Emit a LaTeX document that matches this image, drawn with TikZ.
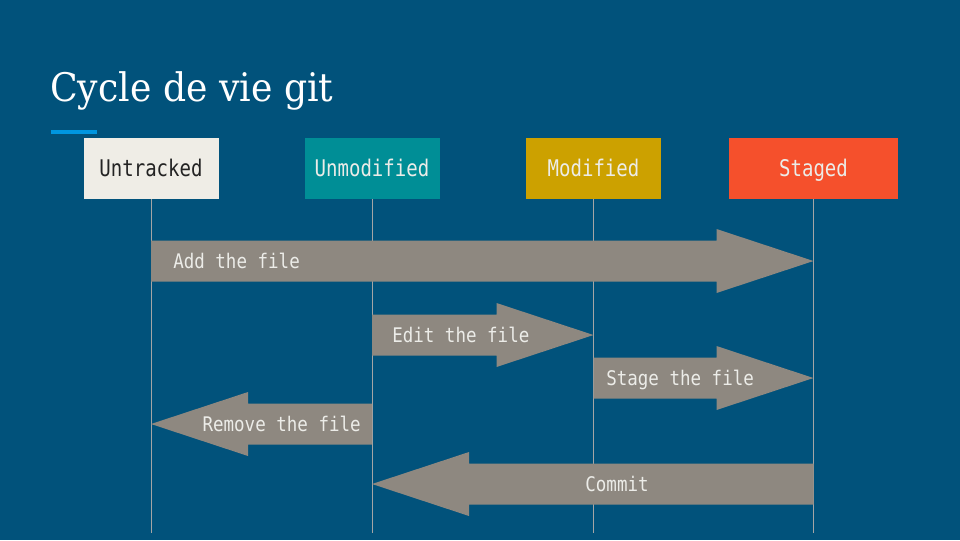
\documentclass[tikz,border=0pt]{standalone}
\usepackage{fontspec}
\usetikzlibrary{calc}
\newfontfamily\titlefont[FakeStretch=0.92]{DejaVu Serif}
\newfontfamily\boxfont[FakeStretch=0.83]{DejaVu Sans Mono}
\newfontfamily\flowfont[FakeStretch=0.87]{DejaVu Sans Mono}
\definecolor{slidebg}{RGB}{1,82,123}
\definecolor{accent}{RGB}{0,150,224}
\definecolor{untrackedc}{RGB}{239,237,230}
\definecolor{unmodifiedc}{RGB}{0,142,150}
\definecolor{modifiedc}{RGB}{204,161,0}
\definecolor{stagedc}{RGB}{245,80,44}
\definecolor{flowc}{RGB}{142,136,128}
\definecolor{lightc}{RGB}{236,236,232}
\definecolor{darkc}{RGB}{35,35,35}
\definecolor{lifec}{RGB}{165,165,165}

% flat arrow: tail, tip, direction (1 right, -1 left)
\newcommand{\flowarrow}[3]{%
  \fill[flow] ($(#1)+(0,-20.5)$) -- ($(#2)+({-97*(#3)},-20.5)$) -- ($(#2)+({-97*(#3)},-32)$)
    -- (#2) -- ($(#2)+({-97*(#3)},32)$) -- ($(#2)+({-97*(#3)},20.5)$) -- ($(#1)+(0,20.5)$) -- cycle;}

\begin{document}
\begin{tikzpicture}[x=0.75pt,y=0.75pt,yscale=-1,xscale=1,
  state/.style={inner sep=0pt,minimum width=101.25pt,minimum height=45.75pt,text=lightc,
    text height=12.5pt,text depth=0pt,font=\boxfont\fontsize{17.2}{18}\selectfont},
  lifeline/.style={draw=lifec,line width=0.75pt},
  flow/.style={fill=flowc},
  flowlabel/.style={inner sep=0pt,text=lightc,text height=11pt,text depth=0pt,
    font=\flowfont\fontsize{15.1}{16}\selectfont}]
\useasboundingbox (0,0) rectangle (960,540);
\fill[slidebg] (0,0) rectangle (960,540);

% title
\node[anchor=base west,inner sep=0pt,text=white,font=\titlefont\fontsize{29.5}{30}\selectfont] (title) at (50,101) {Cycle de vie git};
\fill[accent] (51,130) rectangle (97,134);

% states
\node[state,fill=untrackedc,text=darkc] (untracked) at (151,168.5) {Untracked};
\node[state,fill=unmodifiedc] (unmodified) at (372,168.5) {Unmodified};
\node[state,fill=modifiedc] (modified) at (593.5,168.5) {Modified};
\node[state,fill=stagedc,minimum width=126.75pt] (staged) at (813.5,168.5) {Staged};

\coordinate (bottom) at (0,533);
\foreach \s in {untracked,unmodified,modified,staged}
  \draw[lifeline] (\s.south) -- (\s.south |- bottom);

% rows
\coordinate (rowadd) at (0,261);
\coordinate (rowedit) at (0,335);
\coordinate (rowstage) at (0,378);
\coordinate (rowremove) at (0,424);
\coordinate (rowcommit) at (0,484);

\coordinate (addfrom) at (untracked.south |- rowadd);
\coordinate (addto) at (staged.south |- rowadd);
\coordinate (editfrom) at (unmodified.south |- rowedit);
\coordinate (editto) at (modified.south |- rowedit);
\coordinate (stagefrom) at (modified.south |- rowstage);
\coordinate (stageto) at (staged.south |- rowstage);
\coordinate (removefrom) at (unmodified.south |- rowremove);
\coordinate (removeto) at (untracked.south |- rowremove);
\coordinate (commitfrom) at (staged.south |- rowcommit);
\coordinate (committo) at (unmodified.south |- rowcommit);

\flowarrow{addfrom}{addto}{1}
\flowarrow{editfrom}{editto}{1}
\flowarrow{stagefrom}{stageto}{1}
\flowarrow{removefrom}{removeto}{-1}
\flowarrow{commitfrom}{committo}{-1}

\node[flowlabel,anchor=west] (addlabel) at (173,261) {Add the file};
\node[flowlabel,anchor=west] (editlabel) at (392,335) {Edit the file};
\node[flowlabel,anchor=west] (stagelabel) at (606,378) {Stage the file};
\node[flowlabel,anchor=east] (removelabel) at (361,424) {Remove the file};
\node[flowlabel] (commitlabel) at (617,484) {Commit};
\end{tikzpicture}
\end{document}
